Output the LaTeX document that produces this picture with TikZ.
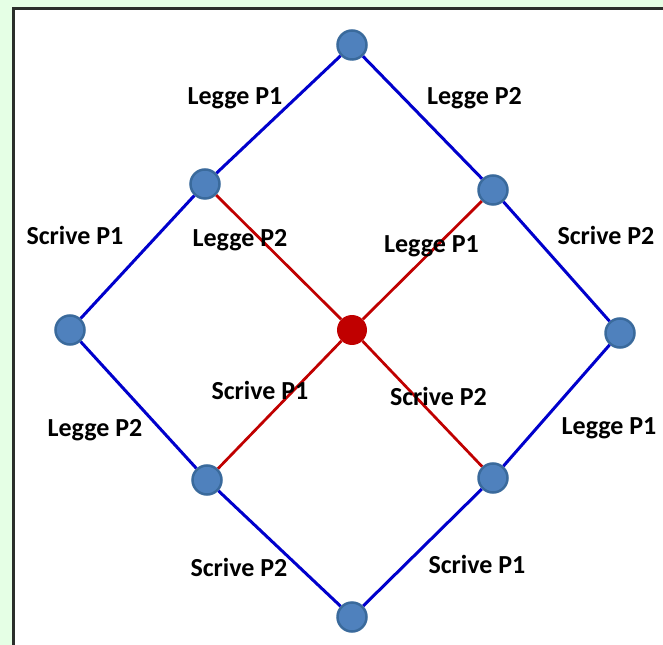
\documentclass[tikz,border=0pt]{standalone}
\usepackage{fontspec}
\setmainfont{Carlito}
\usepackage{xcolor}
\usepackage{tikz}
\usetikzlibrary{positioning}

\definecolor{nodeblue}{HTML}{4F81BD}
\definecolor{nodeedge}{HTML}{3A6A9C}
\definecolor{linkblue}{HTML}{0000CC}
\definecolor{linkred}{HTML}{C00000}
\definecolor{paleback}{HTML}{E5FFE5}
\definecolor{framegrey}{HTML}{2B2F2B}

\begin{document}
\begin{tikzpicture}[
    x=0.02cm, y=-0.02cm,
    statenode/.style={circle, fill=nodeblue, draw=nodeedge, line width=0.05cm, minimum size=0.58cm, inner sep=0pt},
    centrenode/.style={circle, fill=linkred, minimum size=0.6cm, inner sep=0pt},
    bluelink/.style={draw=linkblue, line width=0.06cm},
    redlink/.style={draw=linkred, line width=0.055cm},
    oplabel/.style={anchor=base, inner sep=0pt, font=\fontsize{14.8}{16}\selectfont\bfseries},
]
\useasboundingbox (0,0) rectangle (663,645);
\fill[paleback] (0,0) rectangle (663,645);
\fill[white] (13.5,8.5) rectangle (663,645);
\draw[framegrey, line width=0.06cm] (13.5,645) -- (13.5,8.5) -- (663,8.5);

\node[statenode](top) at (352,45) {};
\node[statenode](upl) at (205,184) {};
\node[statenode](upr) at (493,190) {};
\node[statenode](lft) at (70,330) {};
\node[centrenode](mid) at (352,330) {};
\node[statenode](rgt) at (620,333) {};
\node[statenode](lwl) at (207,480) {};
\node[statenode](lwr) at (493,478) {};
\node[statenode](bot) at (352,617) {};

\draw[bluelink] (top) -- (upl) -- (lft) -- (lwl) -- (bot);
\draw[bluelink] (top) -- (upr) -- (rgt) -- (lwr) -- (bot);
\draw[redlink] (upl) -- (mid) -- (lwr);
\draw[redlink] (upr) -- (mid) -- (lwl);

\node[oplabel](l1) at (235,105) {Legge P1};
\node[oplabel](l2) at (474.5,105) {Legge P2};
\node[oplabel](l3) at (75,245) {Scrive P1};
\node[oplabel](l4) at (240,247) {Legge P2};
\node[oplabel](l5) at (431.5,253) {Legge P1};
\node[oplabel](l6) at (606,245) {Scrive P2};
\node[oplabel](l7) at (260,399) {Scrive P1};
\node[oplabel](l8) at (438.5,405) {Scrive P2};
\node[oplabel](l9) at (95,437) {Legge P2};
\node[oplabel](l10) at (609,435) {Legge P1};
\node[oplabel](l11) at (239,576) {Scrive P2};
\node[oplabel](l12) at (477,573) {Scrive P1};
\end{tikzpicture}
\end{document}
